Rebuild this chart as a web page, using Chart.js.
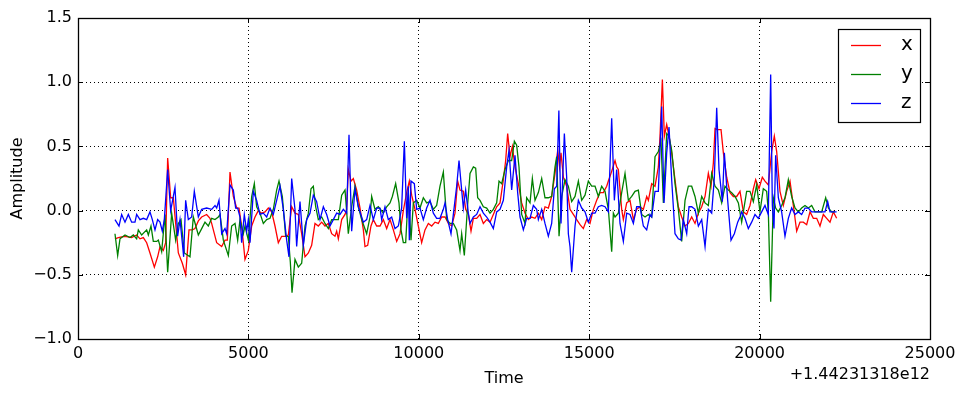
<!DOCTYPE html>
<html>
<head>
<meta charset="utf-8">
<script src="https://cdn.jsdelivr.net/npm/chart.js@4.4.0/dist/chart.umd.min.js"></script>
<style>
  html, body { margin: 0; padding: 0; background: #fff; }
  #wrap { width: 965px; height: 397px; }
</style>
</head>
<body>
<div id="wrap"><canvas id="chart" width="965" height="397"></canvas></div>
<script>
// time offset shown under the x axis
const timeOffsetLabel = '+1.44231318e12';

// [time (ms, relative to offset), amplitude]
const accX = [
  [1085,-0.22],[1183,-0.21],[1379,-0.20],[1574,-0.21],[1721,-0.19],[1819,-0.22],[1917,-0.21],[2015,-0.25],[2112,-0.33],[2240,-0.44],
  [2337,-0.36],[2406,-0.28],[2504,-0.31],[2572,-0.25],[2631,0.41],[2719,0.10],[2797,0.10],[2866,-0.10],[2944,-0.33],[3061,-0.41],
  [3159,-0.50],[3257,-0.15],[3355,-0.15],[3433,-0.14],[3531,-0.08],[3629,-0.05],[3775,-0.03],[3873,-0.06],[3922,-0.10],[4000,-0.18],
  [4069,-0.25],[4216,-0.28],[4313,-0.23],[4382,-0.23],[4460,0.30],[4558,0.11],[4656,0.02],[4724,0.02],[4802,-0.12],[4900,-0.38],
  [4998,-0.31],[5096,-0.12],[5194,-0.05],[5291,0.00],[5389,-0.02],[5487,-0.01],[5585,0.02],[5683,-0.01],[5780,-0.12],[5878,-0.25],
  [5976,-0.20],[6074,-0.20],[6172,-0.19],[6270,0.03],[6367,-0.02],[6465,-0.03],[6563,-0.18],[6661,-0.36],[6759,-0.33],[6856,-0.27],
  [6954,-0.10],[7052,-0.12],[7150,-0.09],[7248,-0.12],[7346,-0.10],[7443,-0.18],[7541,-0.20],[7590,-0.16],[7639,-0.22],[7737,-0.07],
  [7835,-0.03],[7883,0.01],[7932,0.32],[8011,0.23],[8079,0.25],[8177,0.16],[8275,0.02],[8373,-0.15],[8421,-0.28],[8500,-0.27],
  [8597,-0.12],[8666,-0.07],[8764,-0.12],[8862,-0.12],[8960,-0.07],[9057,-0.14],[9155,-0.07],[9253,-0.15],[9351,-0.24],[9449,-0.18],
  [9546,0.00],[9644,0.14],[9722,0.23],[9791,0.12],[9889,0.01],[9987,-0.12],[10084,-0.25],[10182,-0.15],[10280,-0.10],[10378,-0.12],
  [10476,-0.09],[10573,-0.10],[10671,-0.05],[10769,-0.05],[10867,-0.10],[10965,-0.12],[11062,-0.02],[11141,0.23],[11209,0.16],[11307,0.15],
  [11375,0.01],[11454,-0.03],[11532,-0.16],[11601,-0.06],[11698,-0.06],[11796,-0.03],[11894,-0.10],[11992,-0.07],[12090,-0.09],[12187,-0.03],
  [12285,0.03],[12383,0.06],[12481,0.24],[12549,0.39],[12608,0.60],[12676,0.42],[12745,0.50],[12823,0.34],[12921,0.21],[13019,0.06],
  [13117,-0.02],[13214,-0.07],[13312,-0.05],[13410,-0.06],[13508,-0.02],[13606,-0.07],[13703,0.03],[13801,0.02],[13899,0.11],[13997,0.29],
  [14076,0.47],[14130,0.34],[14173,0.45],[14242,0.26],[14339,0.19],[14437,0.01],[14535,-0.03],[14633,-0.07],[14731,-0.11],[14828,-0.14],
  [14926,-0.07],[15024,-0.10],[15122,0.01],[15220,0.08],[15317,0.14],[15415,0.14],[15513,0.19],[15562,0.23],[15640,0.29],[15758,0.39],
  [15806,0.34],[15855,0.32],[15953,0.01],[16002,-0.07],[16100,0.06],[16198,0.08],[16296,-0.07],[16393,0.01],[16491,0.03],[16589,0.01],
  [16687,0.11],[16736,0.08],[16834,0.21],[16931,0.19],[17029,0.34],[17078,0.58],[17147,1.02],[17205,0.58],[17274,0.67],[17342,0.58],
  [17420,0.45],[17518,0.24],[17616,0.03],[17714,-0.05],[17812,-0.12],[17910,-0.10],[18007,-0.05],[18105,-0.10],[18203,-0.02],[18301,0.03],
  [18399,0.11],[18496,0.29],[18575,0.19],[18643,0.37],[18692,0.64],[18770,0.63],[18868,0.63],[18937,0.45],[19034,0.26],[19132,0.14],
  [19230,0.11],[19328,0.11],[19425,0.15],[19523,-0.01],[19620,-0.03],[19718,0.04],[19816,0.17],[19885,0.24],[19982,0.17],[20080,0.26],
  [20158,0.23],[20256,0.20],[20354,0.46],[20432,0.58],[20501,0.46],[20598,0.15],[20696,0.04],[20794,0.15],[20892,0.23],[20990,0.04],
  [21088,-0.16],[21185,-0.09],[21283,-0.09],[21381,-0.11],[21479,-0.01],[21577,-0.06],[21675,-0.06],[21772,-0.12],[21870,-0.03],[21968,-0.06],
  [22066,-0.09],[22164,-0.01],[22261,-0.06]
];

const accY = [
  [1085,-0.18],[1164,-0.35],[1232,-0.22],[1379,-0.19],[1526,-0.21],[1624,-0.19],[1721,-0.22],[1770,-0.15],[1868,-0.19],[2015,-0.15],
  [2064,-0.19],[2142,-0.12],[2210,-0.24],[2308,-0.24],[2357,-0.23],[2455,-0.32],[2553,-0.03],[2631,-0.48],[2748,-0.02],[2866,-0.23],
  [2944,-0.10],[3022,-0.07],[3120,-0.33],[3286,-0.36],[3384,-0.05],[3531,-0.19],[3629,-0.14],[3726,-0.09],[3824,-0.12],[3922,-0.06],
  [4020,-0.07],[4118,-0.05],[4167,-0.03],[4264,-0.23],[4411,-0.35],[4509,-0.12],[4607,-0.10],[4685,-0.23],[4754,-0.07],[4851,-0.18],
  [4900,-0.12],[4998,-0.23],[5096,0.11],[5174,0.21],[5242,0.03],[5340,-0.02],[5438,-0.10],[5536,-0.07],[5634,-0.06],[5731,0.01],
  [5829,0.16],[5898,0.23],[5996,0.11],[6094,-0.20],[6172,-0.20],[6230,-0.40],[6280,-0.64],[6367,-0.38],[6465,-0.44],[6563,-0.41],
  [6661,-0.12],[6759,-0.02],[6837,0.17],[6905,0.19],[6974,0.03],[7052,-0.07],[7150,-0.05],[7248,-0.10],[7346,-0.14],[7443,-0.07],
  [7541,-0.07],[7639,-0.07],[7737,0.12],[7835,0.16],[7932,-0.18],[8030,0.03],[8128,0.19],[8226,0.03],[8324,-0.07],[8470,-0.18],
  [8568,-0.05],[8617,0.11],[8715,0.01],[8813,0.03],[8960,-0.02],[9057,0.03],[9155,0.06],[9224,0.11],[9321,0.21],[9419,0.06],
  [9478,-0.15],[9546,-0.25],[9615,-0.25],[9693,0.14],[9771,-0.23],[9840,0.06],[9938,0.08],[10035,0.02],[10133,0.10],[10231,0.06],
  [10329,0.07],[10427,0.01],[10524,0.04],[10622,0.19],[10720,0.30],[10818,-0.07],[10916,-0.10],[11014,-0.10],[11111,-0.15],[11209,-0.31],
  [11258,-0.18],[11336,-0.35],[11434,0.05],[11503,0.29],[11601,0.34],[11669,0.33],[11728,0.10],[11796,0.08],[11894,0.03],[11992,0.02],
  [12090,-0.02],[12187,0.01],[12285,0.06],[12354,0.23],[12432,0.21],[12530,0.32],[12628,0.39],[12725,0.39],[12804,0.54],[12872,0.51],
  [12940,0.34],[13019,-0.03],[13117,-0.10],[13165,0.10],[13263,0.06],[13332,0.25],[13410,0.08],[13508,0.14],[13606,0.25],[13703,0.10],
  [13801,0.10],[13899,0.11],[13997,0.34],[14046,0.42],[14115,-0.20],[14193,0.11],[14290,0.24],[14388,0.19],[14486,0.07],[14584,0.11],
  [14682,0.23],[14780,0.08],[14877,0.12],[14975,0.23],[15073,0.19],[15171,0.19],[15269,0.11],[15366,0.19],[15464,0.15],[15562,0.01],
  [15660,-0.32],[15709,-0.02],[15758,-0.05],[15855,-0.02],[15953,0.14],[16051,0.29],[16149,0.08],[16247,0.11],[16344,0.15],[16442,0.16],
  [16540,-0.03],[16638,-0.05],[16736,-0.03],[16834,-0.05],[16931,0.42],[17029,0.46],[17108,0.54],[17176,0.06],[17274,0.60],[17342,0.58],
  [17420,0.47],[17518,0.21],[17616,0.01],[17714,-0.24],[17812,0.08],[17910,0.19],[18007,0.19],[18105,0.11],[18203,-0.02],[18301,0.11],
  [18399,0.06],[18496,0.04],[18594,0.29],[18692,0.19],[18790,0.16],[18888,0.06],[18985,0.19],[19083,0.16],[19181,0.14],[19279,0.11],
  [19377,0.06],[19474,-0.09],[19620,0.15],[19718,0.15],[19816,0.07],[19914,0.20],[20011,-0.01],[20109,0.17],[20207,0.15],[20256,-0.01],
  [20325,-0.71],[20403,0.10],[20471,0.02],[20550,-0.01],[20647,0.04],[20745,0.10],[20843,0.24],[20941,0.11],[21039,0.02],[21137,-0.01],
  [21234,0.02],[21332,0.04],[21430,0.02],[21528,0.04],[21626,-0.01],[21723,-0.01],[21821,-0.01],[21939,0.10],[22017,0.02],[22115,-0.01],
  [22212,-0.01]
];

const accZ = [
  [1085,-0.07],[1203,-0.12],[1281,-0.03],[1379,-0.09],[1477,-0.03],[1574,-0.09],[1672,-0.09],[1721,-0.03],[1819,-0.07],[1917,-0.06],
  [2015,-0.07],[2112,-0.01],[2181,-0.07],[2259,-0.15],[2337,-0.07],[2406,-0.09],[2474,-0.16],[2533,-0.07],[2631,0.32],[2719,0.00],
  [2846,0.18],[2924,-0.20],[2993,-0.07],[3061,-0.25],[3100,-0.36],[3159,0.08],[3237,-0.07],[3335,-0.05],[3413,0.15],[3531,-0.05],
  [3629,0.01],[3775,0.02],[3922,0.01],[4020,0.04],[4069,0.02],[4137,0.08],[4216,-0.18],[4313,-0.14],[4362,-0.18],[4460,0.20],
  [4558,0.16],[4626,0.02],[4685,0.02],[4754,-0.05],[4802,-0.25],[4880,-0.03],[4949,-0.16],[4998,-0.07],[5047,-0.25],[5145,0.15],
  [5242,0.08],[5340,-0.03],[5438,-0.02],[5536,-0.05],[5634,0.02],[5731,-0.03],[5829,0.08],[5927,0.19],[6025,0.01],[6123,-0.23],
  [6191,-0.36],[6270,0.25],[6367,0.01],[6416,-0.28],[6514,0.07],[6612,-0.27],[6710,-0.07],[6808,-0.02],[6905,0.12],[7003,0.07],
  [7101,-0.07],[7199,0.03],[7297,-0.03],[7394,-0.12],[7492,-0.07],[7590,-0.02],[7688,-0.03],[7786,0.01],[7883,-0.02],[7952,0.59],
  [8030,-0.16],[8128,0.17],[8226,0.03],[8373,-0.09],[8470,-0.07],[8568,0.04],[8666,-0.07],[8764,0.02],[8862,0.02],[8911,-0.07],
  [9008,0.03],[9106,-0.07],[9204,-0.05],[9302,-0.14],[9399,-0.12],[9497,0.02],[9576,0.54],[9644,-0.06],[9693,0.19],[9722,-0.23],
  [9771,0.23],[9869,0.21],[9938,0.01],[10035,0.02],[10133,-0.07],[10231,0.02],[10329,0.08],[10427,-0.02],[10524,-0.06],[10622,-0.06],
  [10720,0.01],[10769,0.06],[10847,-0.07],[10945,-0.18],[11014,-0.03],[11111,0.19],[11180,0.39],[11258,0.16],[11307,0.02],[11375,0.16],
  [11454,-0.02],[11503,-0.10],[11601,-0.05],[11698,-0.03],[11796,0.03],[11894,-0.02],[11992,-0.05],[12090,-0.09],[12187,-0.14],[12285,-0.01],
  [12383,0.01],[12481,0.08],[12579,0.34],[12647,0.47],[12725,0.16],[12823,0.43],[12901,0.14],[12970,-0.05],[13068,-0.15],[13165,-0.06],
  [13263,-0.06],[13361,0.04],[13459,0.01],[13508,-0.07],[13606,0.01],[13703,-0.10],[13801,-0.20],[13899,-0.10],[13977,0.17],[14046,0.19],
  [14110,0.78],[14173,-0.10],[14271,0.60],[14339,0.26],[14388,-0.18],[14437,-0.28],[14486,-0.48],[14584,-0.12],[14682,0.08],[14780,0.02],
  [14877,-0.01],[14975,-0.09],[15073,-0.02],[15171,-0.02],[15269,0.03],[15366,0.04],[15464,0.03],[15562,-0.01],[15660,0.72],[15738,0.08],
  [15806,0.32],[15904,-0.10],[16002,-0.24],[16100,-0.02],[16198,-0.03],[16296,-0.10],[16393,0.03],[16491,0.03],[16589,-0.12],[16687,-0.15],
  [16785,-0.03],[16834,-0.05],[16931,0.15],[17029,0.15],[17127,0.81],[17196,0.06],[17274,0.45],[17342,0.65],[17420,0.24],[17518,-0.18],
  [17616,-0.22],[17694,-0.23],[17763,-0.07],[17861,-0.18],[17929,0.03],[18007,0.03],[18105,0.01],[18203,-0.12],[18301,-0.07],[18399,-0.28],
  [18496,0.01],[18594,-0.02],[18673,0.26],[18741,0.80],[18809,0.32],[18907,0.07],[18966,0.45],[19063,0.08],[19161,-0.23],[19259,-0.18],
  [19357,-0.09],[19426,-0.05],[19474,-0.01],[19572,-0.06],[19669,-0.14],[19767,-0.09],[19865,-0.03],[19963,-0.06],[20060,-0.01],[20158,0.04],
  [20256,-0.03],[20325,1.06],[20374,0.04],[20422,-0.14],[20471,0.43],[20550,0.10],[20647,-0.01],[20745,-0.20],[20843,-0.06],[20941,0.02],
  [21039,-0.03],[21137,-0.01],[21234,-0.03],[21332,0.02],[21430,0.02],[21528,-0.01],[21626,-0.01],[21723,-0.01],[21821,-0.01],[21919,-0.01],
  [21997,0.07],[22066,-0.01],[22164,-0.01],[22261,-0.01]
];

const seriesNames = ['x', 'y', 'z'];
const seriesColors = ['#ff0000', '#008000', '#0000ff'];
const seriesData = [accX, accY, accZ];

const FONT = 'DejaVu Sans';

// frame, inward ticks, legend box and offset text, matplotlib style
const mplDecor = {
  id: 'mplDecor',
  afterDraw(chart) {
    const {ctx, chartArea, scales} = chart;
    const {left, right, top, bottom} = chartArea;
    ctx.save();
    ctx.strokeStyle = '#000';
    ctx.lineWidth = 1;
    ctx.beginPath();
    scales.x.ticks.forEach(t => {
      const px = Math.round(scales.x.getPixelForValue(t.value)) + 0.5;
      ctx.moveTo(px, bottom); ctx.lineTo(px, bottom - 5);
      ctx.moveTo(px, top); ctx.lineTo(px, top + 5);
    });
    scales.y.ticks.forEach(t => {
      const py = Math.round(scales.y.getPixelForValue(t.value)) + 0.5;
      ctx.moveTo(left, py); ctx.lineTo(left + 5, py);
      ctx.moveTo(right, py); ctx.lineTo(right - 5, py);
    });
    ctx.stroke();

    ctx.lineWidth = 1.3;
    ctx.strokeRect(Math.round(left) + 0.5, Math.round(top) + 0.5, Math.round(right - left), Math.round(bottom - top));

    // legend
    const bx = right - 92, by = top + 11, bw = 82, bh = 93;
    ctx.fillStyle = '#fff';
    ctx.fillRect(bx, by, bw, bh);
    ctx.lineWidth = 1.2;
    ctx.strokeRect(bx + 0.5, by + 0.5, bw, bh);
    ctx.font = '20px "' + FONT + '"';
    ctx.textBaseline = 'middle';
    ctx.textAlign = 'left';
    seriesNames.forEach((name, i) => {
      const ly = by + 16 + i * 29;
      ctx.strokeStyle = seriesColors[i];
      ctx.lineWidth = 1.3;
      ctx.beginPath();
      ctx.moveTo(bx + 13, ly + 0.5);
      ctx.lineTo(bx + 43, ly + 0.5);
      ctx.stroke();
      ctx.fillStyle = '#000';
      ctx.fillText(name, bx + 63, ly);
    });

    // offset of the time axis
    ctx.font = '16px "' + FONT + '"';
    ctx.textAlign = 'right';
    ctx.fillStyle = '#000';
    ctx.fillText(timeOffsetLabel, right, bottom + 36);
    ctx.restore();
  }
};

new Chart(document.getElementById('chart'), {
  type: 'line',
  data: {
    datasets: seriesData.map((pts, i) => ({
      label: seriesNames[i],
      data: pts.map(p => ({x: p[0], y: p[1]})),
      borderColor: seriesColors[i],
      borderWidth: 1.3,
      pointRadius: 0,
      tension: 0,
      fill: false,
      order: 2 - i,
    })),
  },
  options: {
    responsive: false,
    animation: false,
    devicePixelRatio: 1,
    layout: { padding: {top: 18, right: 35, bottom: 0, left: 0} },
    plugins: {
      legend: { display: false },
      tooltip: { enabled: false },
    },
    scales: {
      x: {
        type: 'linear',
        min: 0,
        max: 25000,
        afterFit: s => { s.height = 58; },
        ticks: {
          stepSize: 5000,
          padding: 5,
          maxRotation: 0,
          color: '#000',
          font: {family: FONT, size: 16},
          callback: v => String(v),
        },
        grid: { color: '#000', lineWidth: 1, drawTicks: false },
        border: { display: false, dash: [1, 3] },
        title: {
          display: true,
          text: 'Time',
          color: '#000',
          font: {family: FONT, size: 16},
          padding: {top: 0, bottom: 9},
        },
      },
      y: {
        min: -1,
        max: 1.5,
        afterFit: s => { s.width = 78; },
        ticks: {
          stepSize: 0.5,
          padding: 6,
          color: '#000',
          font: {family: FONT, size: 16},
          callback: v => (v < 0 ? '\u2212' : '') + Math.abs(v).toFixed(1),
        },
        grid: { color: '#000', lineWidth: 1, drawTicks: false },
        border: { display: false, dash: [1, 3] },
        title: {
          display: true,
          text: 'Amplitude',
          color: '#000',
          font: {family: FONT, size: 16},
          padding: {top: 8, bottom: 0},
        },
      },
    },
  },
  plugins: [mplDecor],
});
</script>
</body>
</html>
